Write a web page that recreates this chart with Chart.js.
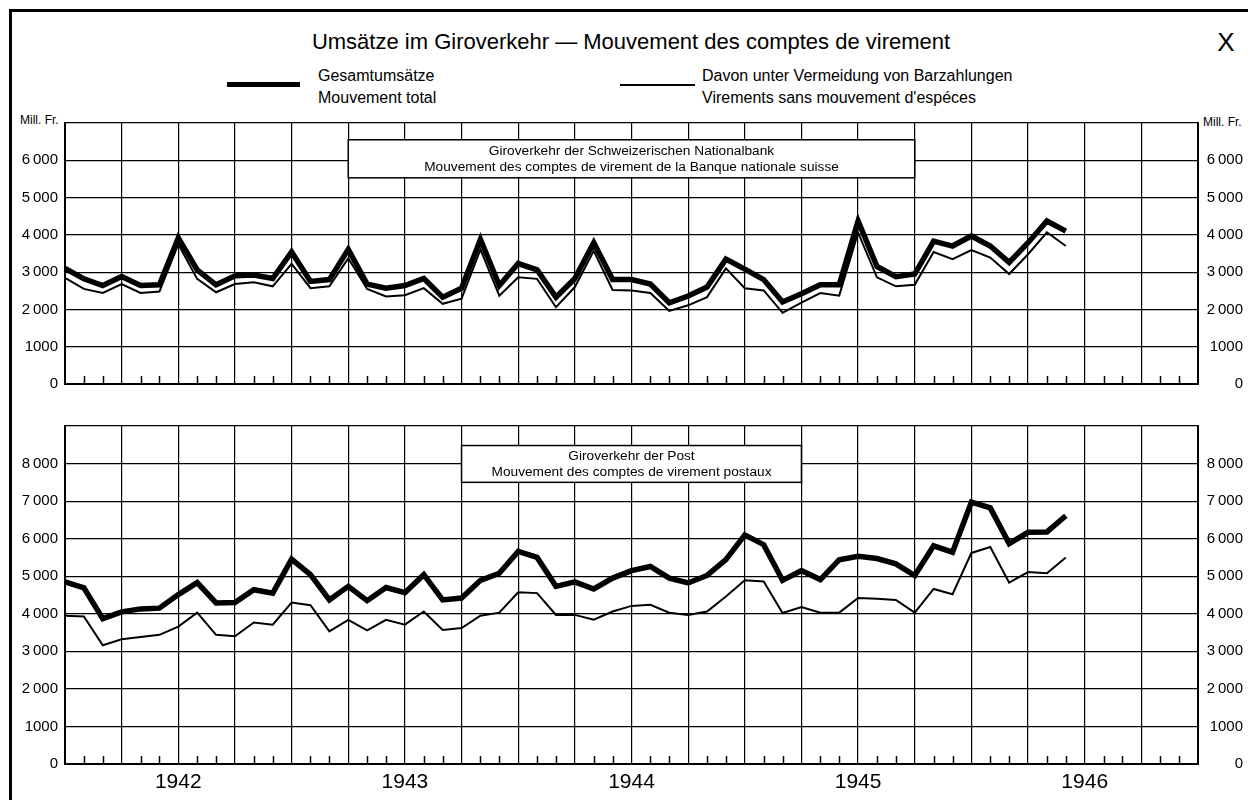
<!DOCTYPE html>
<html>
<head>
<meta charset="utf-8">
<script src="https://cdn.jsdelivr.net/npm/chart.js@4.4.1/dist/chart.umd.min.js"></script>
<style>
  body { margin: 0; background: #fff; width: 1248px; height: 800px; position: relative; overflow: hidden;
         font-family: "Liberation Sans", Arial, sans-serif; color: #000; }
  .frame { position: absolute; left: 9px; top: 9px; width: 1400px; height: 1000px;
           border-left: 3px solid #000; border-top: 3px solid #000; }
  .t { position: absolute; white-space: nowrap; transform: translateY(-50%); line-height: 1; }
  .c { transform: translate(-50%, -50%); }
  .sample { position: absolute; background: #000; }
  canvas { position: absolute; left: 0; }
</style>
</head>
<body>
<div class="frame"></div>

<div class="t c" style="left:631px;top:42px;font-size:22px">Umsätze im Giroverkehr — Mouvement des comptes de virement</div>
<div class="t c" style="left:1226px;top:42px;font-size:26px">X</div>

<div class="sample" style="left:227px;top:82px;width:73px;height:5px"></div>
<div class="t" style="left:318px;top:76px;font-size:16px">Gesamtumsätze</div>
<div class="t" style="left:318px;top:98px;font-size:16px">Mouvement total</div>

<div class="sample" style="left:620px;top:84px;width:75px;height:2px"></div>
<div class="t" style="left:702px;top:76px;font-size:16px">Davon unter Vermeidung von Barzahlungen</div>
<div class="t" style="left:702px;top:98px;font-size:16px">Virements sans mouvement d'espéces</div>

<div class="t" style="left:20px;top:120px;font-size:12px">Mill. Fr.</div>
<div class="t" style="left:1203px;top:122px;font-size:12px">Mill. Fr.</div>

<canvas id="nb" width="1248" height="300" style="top:100px"></canvas>
<canvas id="post" width="1248" height="397" style="top:403px"></canvas>

<script>
// months since January 1942 (0 = start of the plot), one value per month
const years = ['1942', '1943', '1944', '1945', '1946']

// Schweizerische Nationalbank
const nbTotal = [
  3100, 2820, 2640, 2880, 2640, 2660, 3920, 3060, 2660, 2900,
  2920, 2830, 3540, 2750, 2800, 3610, 2680, 2570, 2640, 2830,
  2330, 2570, 3880, 2640, 3230, 3060, 2330, 2830, 3790, 2800,
  2800, 2680, 2180, 2360, 2600, 3350, 3080, 2800, 2200, 2420,
  2660, 2660, 4370, 3150, 2880, 2950, 3830, 3700, 3970, 3700,
  3260, 3790, 4370, 4100,
]
const nbGiro = [
  2850, 2550, 2440, 2680, 2440, 2480, 3750, 2820, 2460, 2680,
  2730, 2620, 3220, 2570, 2620, 3370, 2550, 2350, 2380, 2570,
  2150, 2290, 3610, 2370, 2860, 2820, 2060, 2600, 3570, 2520,
  2510, 2440, 1960, 2110, 2330, 3100, 2570, 2510, 1910, 2180,
  2440, 2370, 4060, 2860, 2620, 2660, 3540, 3350, 3590, 3390,
  2950, 3480, 4070, 3700,
]

// Post
const postTotal = [
  4850, 4690, 3870, 4050, 4130, 4150, 4510, 4830, 4290, 4300,
  4640, 4550, 5450, 5040, 4370, 4730, 4350, 4700, 4560, 5040,
  4370, 4420, 4890, 5080, 5660, 5500, 4730, 4850, 4660, 4950,
  5150, 5260, 4950, 4820, 5020, 5440, 6100, 5840, 4890, 5150,
  4910, 5440, 5530, 5470, 5330, 5020, 5810, 5640, 6970, 6820,
  5870, 6170, 6180, 6610,
]
const postGiro = [
  3950, 3930, 3160, 3320, 3380, 3440, 3660, 4030, 3440, 3400,
  3770, 3710, 4300, 4230, 3530, 3840, 3560, 3840, 3710, 4060,
  3570, 3620, 3950, 4030, 4570, 4550, 3970, 3970, 3840, 4060,
  4210, 4240, 4030, 3970, 4060, 4460, 4890, 4860, 4020, 4180,
  4030, 4030, 4420, 4400, 4370, 4030, 4660, 4520, 5620, 5780,
  4830, 5110, 5080, 5500,
]

const FONT = '"Liberation Sans", Arial, sans-serif'
const toPoints = arr => arr.map((v, i) => ({ x: i, y: v }))

// "1000" is printed without a gap, the others as "2 000"
const fmtTick = max => v => {
  if (v === max) return ''
  if (v === 0) return '0'
  if (v === 1000) return '1000'
  return v / 1000 + '\u2009000'
}

// little month ticks standing on the base line
const monthTicks = {
  id: 'monthTicks',
  beforeDatasetsDraw(chart) {
    const { ctx, scales: { x }, chartArea } = chart
    ctx.save()
    ctx.strokeStyle = '#000'
    ctx.lineWidth = 1.5
    for (let m = 1; m < 60; m++) {
      if (m % 3 === 0) continue
      const px = Math.round(x.getPixelForValue(m)) + 0.5
      ctx.beginPath()
      ctx.moveTo(px, chartArea.bottom)
      ctx.lineTo(px, chartArea.bottom - 8)
      ctx.stroke()
    }
    ctx.restore()
  },
}

// framed caption inside the plot
const panelBox = {
  id: 'panelBox',
  beforeDatasetsDraw(chart, args, opts) {
    const { ctx, scales: { x, y } } = chart
    const x0 = x.getPixelForValue(opts.from), x1 = x.getPixelForValue(opts.to)
    const y0 = y.getPixelForValue(opts.top), y1 = y.getPixelForValue(opts.bottom)
    ctx.save()
    ctx.fillStyle = '#fff'
    ctx.fillRect(x0, y0, x1 - x0, y1 - y0)
    ctx.strokeStyle = '#000'
    ctx.lineWidth = 1.5
    ctx.strokeRect(x0, y0, x1 - x0, y1 - y0)
    ctx.fillStyle = '#000'
    ctx.font = '13.7px ' + FONT
    ctx.textAlign = 'center'
    ctx.textBaseline = 'middle'
    const cx = (x0 + x1) / 2, cy = (y0 + y1) / 2
    ctx.fillText(opts.lines[0], cx, cy - 8)
    ctx.fillText(opts.lines[1], cx, cy + 8)
    ctx.restore()
  },
}

function makeChart(id, total, giro, max, box, showYears, pad) {
  const yTicks = {
    stepSize: 1000,
    color: '#000',
    font: { family: FONT, size: 15 },
    padding: 7,
    callback: fmtTick(max),
  }
  return new Chart(document.getElementById(id), {
    type: 'line',
    data: {
      datasets: [
        { data: toPoints(total), borderColor: '#000', borderWidth: 5.5, borderJoinStyle: 'miter' },
        { data: toPoints(giro), borderColor: '#000', borderWidth: 2 },
      ],
    },
    options: {
      responsive: false,
      animation: false,
      devicePixelRatio: 1,
      layout: { padding: { left: 0, right: 5, top: 23, bottom: pad } },
      elements: { point: { radius: 0 }, line: { tension: 0 } },
      plugins: { legend: { display: false }, tooltip: { enabled: false }, panelBox: box },
      scales: {
        x: {
          type: 'linear',
          min: 0,
          max: 60,
          grid: { color: '#000', lineWidth: 1.2, drawTicks: false },
          border: { color: '#000', width: 2 },
          ticks: {
            display: showYears,
            stepSize: 3,
            autoSkip: false,
            maxRotation: 0,
            padding: 6,
            color: '#000',
            font: { family: FONT, size: 21 },
            callback: v => ((v - 6) % 12 === 0 ? years[(v - 6) / 12] : ''),
          },
          afterFit: s => { s.height = showYears ? 36 : 0 },
        },
        y: {
          position: 'left',
          min: 0,
          max: max,
          grid: { color: '#000', lineWidth: 1.2, drawTicks: false },
          border: { color: '#000', width: 2 },
          ticks: yTicks,
          afterFit: s => { s.width = 65 },
        },
        y2: {
          position: 'right',
          min: 0,
          max: max,
          grid: { display: false, drawTicks: false },
          border: { color: '#000', width: 2 },
          ticks: Object.assign({}, yTicks, { crossAlign: 'far' }),
          afterFit: s => { s.width = 45 },
        },
      },
    },
    plugins: [monthTicks, panelBox],
  })
}

makeChart('nb', nbTotal, nbGiro, 7000, {
  from: 15, to: 45, top: 6550, bottom: 5530,
  lines: ['Giroverkehr der Schweizerischen Nationalbank',
          'Mouvement des comptes de virement de la Banque nationale suisse'],
}, false, 14)

makeChart('post', postTotal, postGiro, 9000, {
  from: 21, to: 39, top: 8480, bottom: 7500,
  lines: ['Giroverkehr der Post', 'Mouvement des comptes de virement postaux'],
}, true, 0)
</script>
</body>
</html>
